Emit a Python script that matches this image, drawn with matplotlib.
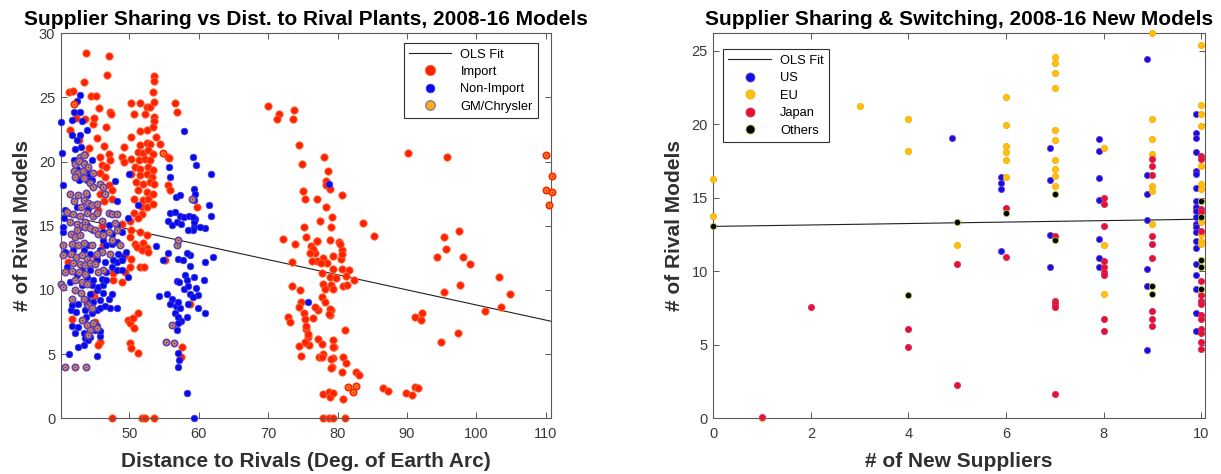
import matplotlib
matplotlib.use("Agg")
import matplotlib.pyplot as plt
from matplotlib.lines import Line2D
import numpy as np

plt.rcParams['font.family'] = ['Liberation Sans', 'DejaVu Sans']

# ---------------- Left panel data ----------------
import_pts = [
    (70.0,24.36),(71.6,23.7),(71.3,23.35),(73.7,24.0),(73.6,23.35),(74.4,21.3),(74.8,19.8),(78.1,20.4),(78.6,19.3),(78.4,18.5),
    (78.3,18.2),(78.9,17.9),(75.0,17.7),(75.3,17.1),(77.0,17.1),(78.4,16.5),(79.2,15.7),(77.4,15.4),(75.1,14.9),(79.1,14.9),
    (80.6,17.4),(83.6,15.2),(85.3,14.2),(72.2,14.0),(73.8,13.6),(75.4,14.1),(76.1,13.4),(76.7,12.9),(77.1,13.8),(73.5,12.2),
    (73.4,10.3),(74.6,10.0),(74.7,9.1),(74.5,8.66),(75.1,8.17),(72.9,7.86),(73.1,7.52),(75.3,7.75),(75.5,6.97),(75.8,6.35),
    (74.5,5.65),(75.5,5.84),(75.9,5.73),(74.7,4.85),(77.2,6.2),(77.7,5.76),(77.9,5.0),(77.4,4.77),(79.4,6.1),(79.5,5.52),
    (79.4,4.67),(79.2,4.0),(77.2,8.43),(76.5,7.78),(79.1,8.43),(78.9,8.04),(77.9,1.9),(78.8,2.07),(78.9,1.68),(79.4,1.95),
    (77.9,0.0),(78.7,0.0),(79.4,0.0),(81.0,0.0),(77.0,13.8),(78.9,13.9),(80.2,13.7),(76.5,13.2),(76.0,12.9),(80.6,13.15),
    (79.4,12.66),(77.9,12.5),(77.0,12.27),(76.3,12.27),(78.5,12.1),(77.6,12.1),(80.5,12.4),(80.7,11.6),(81.6,11.54),(79.4,11.6),
    (77.7,11.3),(78.9,11.0),(79.8,10.9),(81.2,11.1),(82.3,10.8),(77.9,10.5),(79.1,10.4),(80.8,10.3),(81.4,10.4),(78.2,10.04),
    (79.4,10.04),(77.7,9.47),(78.2,9.08),(76.7,8.64),(78.9,8.48),(78.7,8.12),(75.4,7.19),(75.8,6.6),(75.3,5.97),(79.4,5.58),
    (77.3,4.75),(77.8,4.75),(79.1,4.6),(79.1,3.94),(80.8,4.75),(81.2,4.28),(80.7,3.63),(81.06,6.88),(82.6,3.63),(83.1,3.37),
    (80.3,13.6),(80.6,12.8),(86.6,2.39),(87.3,2.15),(89.9,1.97),(90.7,1.84),(91.1,2.47),(91.6,2.34),(80.8,1.48),
    (90.1,20.67),(95.7,20.4),(97.5,14.6),(95.4,14.1),(95.6,13.2),(94.3,12.6),(98.0,12.6),(99.1,12.0),(103.3,11.0),(104.9,9.7),
    (95.3,9.86),(97.6,10.4),(103.6,8.7),(101.3,8.38),(91.1,7.9),(92.1,8.17),(92.0,7.65),(97.4,6.64),(94.9,5.97),
    (43.76,28.46),(47.1,28.25),(46.8,26.77),(43.5,26.2),(41.36,25.4),(41.94,25.47),(44.5,25.08),(45.2,25.14),(45.6,24.2),(47.2,23.9),
    (47.36,23.7),(46.6,22.7),(44.8,22.9),(41.5,22.49),(42.8,21.66),(45.3,21.84),(46.4,21.2),(44.2,21.09),(43.6,20.57),(47.0,20.57),
    (47.2,20.1),(45.7,20.4),(46.0,19.7),(46.7,19.6),(45.7,19.1),(46.5,18.8),(47.0,18.16),(47.5,17.8),(46.2,18.0),(45.8,17.5),
    (46.3,16.94),(47.5,17.1),(43.6,23.3),(44.9,23.4),(42.3,23.4),
    (50.3,24.6),(51.5,24.6),(52.6,24.25),(53.0,24.25),(50.7,23.7),(52.2,23.7),(53.56,26.64),(53.56,26.28),(53.46,25.42),(53.56,24.67),
    (53.56,23.5),(53.56,23.16),(53.46,22.7),(52.6,22.5),(51.5,22.4),(50.2,21.9),(49.2,21.14),(51.5,21.27),(52.5,21.45),(53.0,21.35),
    (53.9,21.92),(54.4,21.4),(51.2,20.75),(51.9,20.7),(52.7,20.88),(53.46,20.62),(50.3,20.2),(51.4,20.15),(52.3,20.2),(53.0,20.15),
    (48.9,20.36),(49.2,19.97),(50.8,19.6),(51.5,19.46),(52.7,19.6),(53.46,19.33),(50.3,19.07),(51.5,18.94),(52.5,19.07),(53.2,18.8),
    (50.96,18.4),(52.0,18.29),(53.0,18.4),(53.56,18.24),(51.3,17.77),(52.5,17.64),(53.46,17.5),(50.6,17.12),(51.9,16.99),(52.7,17.12),
    (51.8,16.5),(52.5,16.5),(53.46,16.7),(50.6,16.0),(51.8,15.95),(50.1,15.4),(51.2,15.6),
    (56.6,24.57),(56.8,23.9),(55.6,18.16),(55.8,17.77),(55.6,20.4),(55.7,20.25),(59.7,16.47),
    (48.9,15.17),(50.3,14.65),(51.5,14.52),(52.5,14.26),(50.1,14.13),(50.8,13.61),(51.9,13.67),(52.6,13.3),(51.06,13.35),(51.8,13.1),
    (52.7,12.97),(48.9,12.45),(49.4,12.71),(50.3,12.45),(50.1,11.8),(51.5,11.8),(52.1,11.8),(49.4,11.41),(48.9,10.63),(47.7,10.8),
    (44.9,9.5),(49.86,7.65),(50.1,7.39),(50.5,7.78),(51.3,8.17),(50.6,7.05),(50.1,5.83),(50.3,5.44),(51.2,5.05),(45.8,5.96),
    (45.5,5.7),(41.7,7.75),(41.1,12.2),(58.8,8.9),(55.2,12.3),(57.6,5.57),(57.4,4.74),(47.5,0.0),(51.8,0.0),(52.2,0.0),(53.6,0.0),
    (45.5,16.2),(46.0,15.0),(45.2,12.5),(44.6,9.7),(47.6,11.3),(46.2,13.5),(45.0,7.5),
]
import_x = [p[0] for p in import_pts]
import_y = [p[1] for p in import_pts]

nonimport_pts = [
    (78.75,18.25),(75.8,9.1),(59.3,0.0),
    (59.2,20.4),(59.56,19.7),(61.8,19.0),(59.3,17.9),(59.3,17.0),(61.5,16.6),(61.8,15.8),(59.46,15.5),(59.3,14.9),(60.9,14.86),
    (59.3,15.3),(60.2,14.9),(59.1,14.65),(60.9,12.2),(62.0,12.6),(58.74,12.7),(58.74,11.9),(59.3,11.0),(60.8,10.8),(59.6,10.16),
    (59.9,9.57),(59.9,8.63),(60.9,8.22),
    (40.1,23.1),(40.26,20.7),(40.5,18.16),(42.9,25.2),(42.5,24.7),(42.0,23.9),(42.9,23.9),(41.7,23.27),(43.1,23.2),(43.96,22.5),
    (41.8,22.1),(42.9,22.1),(42.4,21.66),(43.0,21.14),(42.2,21.0),(42.0,20.1),(43.5,19.9),(44.6,20.1),(42.4,19.45),(43.86,19.38),
    (42.75,18.6),(44.2,18.9),(44.6,18.6),(43.86,18.55),(47.9,18.5),(43.96,17.38),(48.2,16.9),(49.8,15.6),(49.96,19.07),(51.2,16.6),
    (41.36,4.98),(45.3,4.85),(42.66,5.52),(43.4,5.7),(43.6,6.22),(44.1,6.1),(41.7,7.18),(42.66,7.13),(42.2,6.61),(43.4,6.66),
    (44.3,6.35),(45.8,6.4),(45.3,7.18),(45.8,6.82),(45.06,6.87),(43.4,7.65),(43.8,7.91),(41.56,8.43),(42.3,8.3),(43.6,8.43),
    (44.6,8.17),(45.3,8.43),(41.7,8.8),(42.66,8.94),(45.8,8.56),(46.5,8.74),(47.2,8.63),(48.2,8.63),(43.86,9.2),(44.8,9.07),
    (45.8,9.2),(47.0,9.26),(44.3,9.72),(45.3,9.98),(46.26,9.77),(47.5,9.67),(43.14,10.37),(44.6,10.37),(45.5,10.24),(46.26,10.37),
    (42.4,11.15),(43.86,11.02),(44.8,10.76),(46.0,10.89),(46.7,10.76),(46.7,11.41),(47.5,11.8),(48.18,11.59),(48.9,11.54),(48.18,12.19),
    (48.9,12.58),(49.5,12.97),(49.0,12.32),(48.4,12.84),(47.7,12.32),(46.5,12.19),(45.3,12.32),(44.3,12.84),(45.8,13.1),(46.7,13.5),
    (43.4,13.1),(44.1,13.5),(41.5,12.8),(41.94,13.1),(40.74,12.97),(40.5,14.5),(40.5,14.9),(42.9,14.9),(43.86,15.1),(44.8,14.65),
    (46.26,14.52),(47.5,14.39),(48.9,14.52),(47.0,15.04),(48.18,15.04),(46.26,13.87),(47.5,13.61),(48.18,13.74),(44.3,11.54),(43.14,11.54),
    (40.7,16.2),(40.6,15.6),(42.5,16.5),(44.0,16.3),(41.4,10.6),(41.0,11.8),
    (53.9,13.4),(49.86,11.02),(54.3,9.52),(55.4,9.67),(56.1,9.33),(55.9,8.94),(56.7,8.74),(57.06,9.07),(57.3,8.56),(56.6,8.17),
    (57.06,7.91),(57.4,7.6),(56.96,7.39),(58.26,7.91),(56.9,10.68),(57.2,10.63),(57.8,10.11),(58.0,11.15),(58.26,10.81),(58.5,10.3),
    (58.7,9.72),(59.2,9.46),(58.5,8.94),(56.8,6.87),(57.06,5.05),(57.2,4.54),(56.96,4.02),(58.26,1.94),(54.8,12.33),(55.6,12.85),
    (55.8,16.0),(56.6,16.08),(57.3,15.8),(57.8,15.7),(55.6,15.4),(56.1,15.05),(56.8,15.3),(57.5,15.17),(58.6,15.75),(59.2,15.7),
    (59.46,17.5),(55.8,18.8),(55.7,19.6),(56.7,17.25),(57.3,17.4),(57.8,22.4),(58.5,14.7),(57.0,12.4),(57.7,12.3),(58.3,12.9),
]
nonimport_x = [p[0] for p in nonimport_pts]
nonimport_y = [p[1] for p in nonimport_pts]

gm_pts = [
    (42.2,19.8),(42.9,20.4),(42.8,20.05),(43.4,19.8),(42.0,19.3),(42.66,19.1),(43.3,19.3),(42.2,18.8),(43.4,18.7),(44.7,19.1),
    (44.3,18.3),(44.8,18.0),(43.8,17.56),(45.8,18.24),(46.26,18.0),(46.5,17.5),(41.5,17.5),(42.66,17.38),(43.4,17.0),(44.1,16.8),
    (44.6,16.6),(45.3,16.7),(41.0,16.08),(41.94,15.95),(42.9,15.8),(43.86,16.0),(44.7,15.8),(45.3,16.0),(46.0,15.4),(47.0,16.0),
    (47.5,15.9),(48.2,15.95),(47.9,15.2),(40.5,13.5),(40.5,12.7),(40.74,11.4),(40.1,10.5),(40.5,10.24),(41.56,14.4),(42.2,14.13),
    (42.9,14.26),(42.4,14.65),(41.7,13.6),(42.66,13.5),(43.4,13.67),(41.56,12.8),(42.3,12.6),(43.14,12.7),(43.86,12.45),(41.94,12.1),
    (42.9,12.06),(43.6,11.93),(44.3,12.1),(41.8,11.5),(42.8,11.41),(43.6,11.28),(42.2,10.76),(43.14,10.63),(43.86,10.5),(42.2,9.98),
    (43.0,9.77),(41.7,9.33),(43.4,9.33),(43.96,8.94),(41.5,15.3),(42.4,15.17),(43.1,15.04),(43.6,15.3),(43.6,14.9),(44.3,14.86),
    (45.06,14.7),(45.5,14.4),(46.26,14.26),(47.0,14.52),(48.18,14.65),(47.5,13.87),(48.66,13.5),(46.0,12.97),(47.2,12.84),(46.26,11.54),
    (44.6,13.5),(45.3,12.8),(45.06,12.06),(45.5,11.41),(44.1,8.8),(44.6,8.56),(43.14,7.65),(43.86,7.26),(44.3,6.87),(44.1,6.48),
    (44.8,7.39),(45.3,7.0),(55.3,5.96),(56.4,5.83),(56.1,7.26),(56.8,13.5),(57.06,13.87),(40.74,4.0),(42.2,4.0),(43.8,4.0),
    (59.0,17.1),(43.0,16.5),(42.0,16.9),(43.5,20.5),(44.0,19.6),
]
gm_x = [p[0] for p in gm_pts]
gm_y = [p[1] for p in gm_pts]

gm_import_pts = [
    (81.5,2.41),(82.2,2.07),(82.7,2.52),(110.0,20.5),(110.85,18.9),(110.0,17.8),(110.9,17.6),(110.5,16.6),(54.8,20.7),(42.0,24.5),
]
gm_import_x = [p[0] for p in gm_import_pts]
gm_import_y = [p[1] for p in gm_import_pts]

ols_left = (20.61, -0.1178)   # intercept, slope
left_xlim = (40.1, 110.7)

# ---------------- Right panel data ----------------
us_x = [4.9, 5.9, 5.9, 5.9, 5.9, 6.9, 6.9, 6.9, 6.9,
        7.9, 7.9, 7.9, 7.9, 7.9, 7.9, 7.9,
        8.9, 8.9, 8.9, 8.9, 8.9, 8.9, 8.9] + [9.9] * 21
us_y = [19.1, 16.42, 16.03, 15.58, 11.38, 18.41, 16.19, 12.49, 10.3,
        18.99, 18.18, 16.37, 14.88, 12.2, 10.89, 10.3,
        24.48, 16.58, 15.29, 13.48, 10.19, 8.99, 4.67,
        20.69, 19.4, 19.1, 18.11, 16.82, 16.62, 15.7, 14.79, 14.39, 14.11, 13.71,
        13.23, 13.03, 12.65, 12.1, 11.56, 10.52, 9.78, 8.78, 7.18, 5.96]

eu_x = [0, 0, 1, 3, 4, 4, 5, 6, 6, 6, 6, 6, 6,
        7, 7, 7, 7, 7, 7, 7, 7, 7, 7,
        8, 8, 8, 9, 9, 9, 9, 9, 9, 9] + [10] * 11
eu_y = [16.28, 13.8, 0.0, 21.27, 20.4, 18.18, 11.79, 21.88, 19.99, 18.52, 18.09, 17.57, 16.4,
        24.62, 24.19, 23.49, 22.49, 19.6, 18.97, 17.57, 16.98, 16.49, 15.79,
        18.38, 11.79, 8.49, 26.2, 20.37, 18.99, 18.0, 15.81, 15.47, 13.19,
        25.38, 21.3, 20.69, 19.87, 17.19, 15.97, 15.6, 13.39, 12.56, 12.08, 11.86]

japan_x = [1, 2, 4, 4, 5, 5, 6, 6, 7, 7, 7, 7, 7] + [8] * 9 + [9] * 9 + [10] * 15
japan_y = [0.09, 7.59, 6.07, 4.83, 10.48, 2.28, 14.3, 10.98, 12.38, 7.97, 7.77, 7.57, 1.65,
           14.97, 14.59, 13.08, 10.7, 10.28, 9.98, 9.73, 6.78, 5.96,
           17.64, 17.19, 16.58, 12.38, 11.88, 10.89, 7.29, 6.78, 6.3,
           17.86, 17.66, 14.27, 14.07, 12.78, 9.37, 8.38, 7.99, 7.77, 7.02, 6.78, 6.1, 5.8, 5.17, 4.74]

others_x = [0, 4, 5, 6, 7, 7, 9, 9, 10, 10, 10, 10, 10]
others_y = [13.1, 8.42, 13.39, 14.0, 15.29, 12.15, 8.99, 8.49, 14.79, 13.69, 10.79, 10.3, 8.78]

ols_right = (13.06, 0.049)
right_xlim = (0, 10.08)
right_ylim = (0, 26.2)

# ---------------- Styling ----------------
RED, RED_E = '#FF2200', '#FF6A3A'
BLUE, BLUE_E = '#0A0AE6', '#3A3AF0'
GM_FACE, GM_EDGE = '#F3A530', '#6540B0'
US_C, US_E = '#1010E0', '#7A3FC8'
EU_C, EU_E = '#FFBE10', '#F8B000'
JP_C, JP_E = '#E8102A', '#D03070'
OT_C, OT_E = '#000000', '#A8C030'
AXC = '#5a5a5a'
TXT = '#3a3a3a'

fig = plt.figure(figsize=(12.21, 4.74), dpi=100)
ax1 = fig.add_axes([0.0497, 0.1175, 0.4013, 0.8122])
ax2 = fig.add_axes([0.5842, 0.1175, 0.4027, 0.8122])

def style_axes(ax):
    for s in ax.spines.values():
        s.set_color(AXC)
        s.set_linewidth(0.8)
    ax.tick_params(direction='in', length=4, width=0.7, color=AXC, labelcolor=TXT,
                   labelsize=10.5, top=True, right=True, pad=4)
    ax.tick_params(axis='x', pad=6)

TITLE_FS = 15
LABEL_FS = 15

# Left panel
xs = np.array(left_xlim)
ax1.plot(xs, ols_left[0] + ols_left[1] * xs, color='#202020', lw=0.8, zorder=1)
ax1.scatter(import_x, import_y, s=28, c=RED, edgecolors=RED_E, linewidths=0.6, zorder=2, clip_on=False)
ax1.scatter(nonimport_x, nonimport_y, s=23, c=BLUE, edgecolors=BLUE_E, linewidths=0.5, zorder=3, clip_on=False)
ax1.scatter(gm_x, gm_y, s=20, c=GM_FACE, edgecolors=GM_EDGE, linewidths=1.3, zorder=4, clip_on=False)
ax1.scatter(gm_x, gm_y, s=2.5, c=GM_EDGE, linewidths=0, zorder=5, clip_on=False)
ax1.scatter(gm_import_x, gm_import_y, s=20, c=GM_FACE, edgecolors=RED, linewidths=1.3, zorder=4, clip_on=False)
ax1.scatter(gm_import_x, gm_import_y, s=2.5, c=RED, linewidths=0, zorder=5, clip_on=False)
ax1.set_xlim(*left_xlim)
ax1.set_ylim(0, 30)
ax1.set_xticks([50, 60, 70, 80, 90, 100, 110])
ax1.set_yticks([0, 5, 10, 15, 20, 25, 30])
style_axes(ax1)
ax1.set_title('Supplier Sharing vs Dist. to Rival Plants, 2008-16 Models',
              fontsize=TITLE_FS, fontweight='bold', pad=6)
ax1.set_xlabel('Distance to Rivals (Deg. of Earth Arc)', fontsize=LABEL_FS, fontweight='bold',
               color='#303030', labelpad=8)
ax1.set_ylabel('# of Rival Models', fontsize=LABEL_FS, fontweight='bold', color='#303030', labelpad=5)

h1 = [Line2D([], [], color='#202020', lw=0.8),
      Line2D([], [], ls='', marker='o', ms=7.5, mfc=RED, mec=RED_E, mew=0.6),
      Line2D([], [], ls='', marker='o', ms=6.3, mfc=BLUE, mec=BLUE_E, mew=0.5),
      Line2D([], [], ls='', marker='o', ms=6.8, mfc='#F5B020', mec='#9a7a8a', mew=1.0)]
leg1 = ax1.legend(h1, ['OLS Fit', 'Import', 'Non-Import', 'GM/Chrysler'], loc='upper right',
                  bbox_to_anchor=(0.974, 0.974), borderaxespad=0, fontsize=9.3, handlelength=3.3,
                  handletextpad=0.7, labelspacing=0.42, fancybox=False, framealpha=1,
                  edgecolor='#303030', borderpad=0.4)
leg1.get_frame().set_linewidth(0.8)

# Right panel
xs2 = np.array([0, 10])
ax2.plot(xs2, ols_right[0] + ols_right[1] * xs2, color='#202020', lw=0.8, zorder=1)
S2 = 20
ax2.scatter(us_x, us_y, s=S2, c=US_C, edgecolors=US_E, linewidths=0.6, zorder=2, clip_on=False)
ax2.scatter(eu_x, eu_y, s=S2, c=EU_C, edgecolors=EU_E, linewidths=0.6, zorder=3, clip_on=False)
ax2.scatter(japan_x, japan_y, s=S2, c=JP_C, edgecolors=JP_E, linewidths=0.6, zorder=4, clip_on=False)
ax2.scatter(others_x, others_y, s=S2, c=OT_C, edgecolors=OT_E, linewidths=0.6, zorder=5, clip_on=False)
ax2.set_xlim(*right_xlim)
ax2.set_ylim(*right_ylim)
ax2.set_xticks([0, 2, 4, 6, 8, 10])
ax2.set_yticks([0, 5, 10, 15, 20, 25])
style_axes(ax2)
ax2.set_title('Supplier Sharing & Switching, 2008-16 New Models',
              fontsize=TITLE_FS, fontweight='bold', pad=6)
ax2.set_xlabel('# of New Suppliers', fontsize=LABEL_FS, fontweight='bold', color='#303030', labelpad=8)
ax2.set_ylabel('# of Rival Models', fontsize=LABEL_FS, fontweight='bold', color='#303030', labelpad=5)

h2 = [Line2D([], [], color='#202020', lw=0.8),
      Line2D([], [], ls='', marker='o', ms=6.5, mfc=US_C, mec=US_E, mew=0.6),
      Line2D([], [], ls='', marker='o', ms=6.5, mfc=EU_C, mec=EU_E, mew=0.6),
      Line2D([], [], ls='', marker='o', ms=6.5, mfc=JP_C, mec=JP_E, mew=0.6),
      Line2D([], [], ls='', marker='o', ms=6.5, mfc=OT_C, mec=OT_E, mew=0.6)]
leg2 = ax2.legend(h2, ['OLS Fit', 'US', 'EU', 'Japan', 'Others'], loc='upper left',
                  bbox_to_anchor=(0.020, 0.958), borderaxespad=0, fontsize=9.3, handlelength=3.3,
                  handletextpad=0.7, labelspacing=0.42, fancybox=False, framealpha=1,
                  edgecolor='#303030', borderpad=0.4)
leg2.get_frame().set_linewidth(0.8)

fig.savefig('out.png', dpi=100)
